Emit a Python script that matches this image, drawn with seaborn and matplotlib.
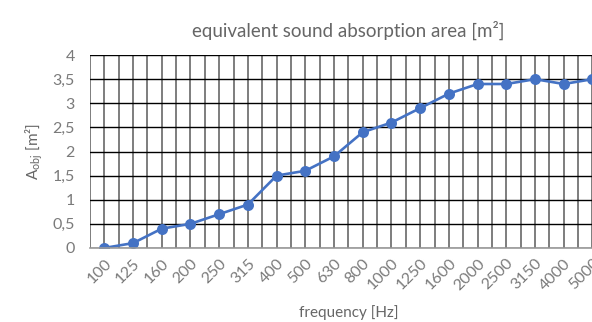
import numpy as np
import seaborn as sns
import matplotlib.pyplot as plt

# data
freqs = ['100', '125', '160', '200', '250', '315', '400', '500', '630', '800',
         '1000', '1250', '1600', '2000', '2500', '3150', '4000', '5000']
a_obj = [0.0, 0.1, 0.4, 0.5, 0.7, 0.9, 1.5, 1.6, 1.9, 2.4,
         2.6, 2.9, 3.2, 3.4, 3.4, 3.5, 3.4, 3.5]
y_ticks = [0, 0.5, 1, 1.5, 2, 2.5, 3, 3.5, 4]
y_tick_labels = ['0', '0,5', '1', '1,5', '2', '2,5', '3', '3,5', '4']

sns.set_theme(style='white')
plt.rcParams['font.family'] = ['Lato', 'DejaVu Sans']
plt.rcParams['mathtext.fontset'] = 'custom'
plt.rcParams['mathtext.rm'] = 'Lato'

text_gray = '#666666'
tick_gray = '#7a7a7a'
line_blue = '#4472C4'

fig = plt.figure(figsize=(5.92, 3.22), dpi=100)
# plot area runs past the right edge, like the cropped original
ax = fig.add_axes([0.152, 0.230, 0.873, 0.599])

sns.pointplot(x=freqs, y=a_obj, color=line_blue, markers='o',
              markersize=6.5, linewidth=1.9, ax=ax)

ax.set_xlim(-0.5, len(freqs) - 0.5)
ax.set_ylim(0, 4)

# vertical grid at category centres and boundaries
ax.set_xticks(np.arange(len(freqs)))
ax.set_xticks(np.arange(len(freqs) + 1) - 0.5, minor=True)
ax.set_xticklabels(freqs, rotation=45, ha='right', rotation_mode='anchor')
ax.set_yticks(y_ticks)
ax.set_yticklabels(y_tick_labels)

ax.grid(True, which='both', axis='x', color='#5a5a5a', linewidth=1.1)
ax.grid(True, which='major', axis='y', color='black', linewidth=1.0)
ax.set_axisbelow(True)

for side in ['top', 'right', 'left']:
    ax.spines[side].set_visible(False)
ax.spines['bottom'].set_color('#9a9a9a')
ax.spines['bottom'].set_linewidth(1.2)

ax.tick_params(axis='both', which='both', length=0, labelsize=11.5,
               labelcolor=tick_gray)
ax.tick_params(axis='x', pad=6)
ax.tick_params(axis='y', pad=11)

ax.set_title('equivalent sound absorption area [m²]', color=text_gray,
             fontsize=13.5, pad=13)
ax.set_xlabel('frequency [Hz]', color=text_gray, fontsize=11, labelpad=9)
ax.set_ylabel(r'A$_{\mathregular{obj}}$ [m²]', color=text_gray, fontsize=11,
              labelpad=5)

fig.savefig('out.png', dpi=100)
